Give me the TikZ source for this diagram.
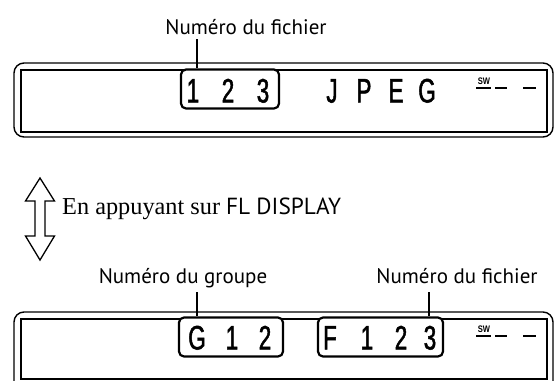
\documentclass[tikz,border=0pt]{standalone}
\usepackage{fontspec}
\setmainfont{Liberation Serif}
\newfontfamily\lblfont{PT Sans}
\newfontfamily\lcdfont[FakeStretch=0.66,FakeBold=1.4]{Liberation Sans}
\newfontfamily\swfont[FakeStretch=0.8]{Liberation Sans}
\begin{document}
\begin{tikzpicture}[x=1pt,y=-1pt,
  lbl/.style={font=\lblfont\fontsize{21}{24}\selectfont, inner sep=0pt, anchor=base},
  lcd/.style={font=\lcdfont\fontsize{34}{34}\selectfont, inner sep=0pt, anchor=base},
  segbox/.style={draw, line width=2.2pt, rounded corners=5pt, fill=white, inner sep=0pt, minimum height=39pt},
  frame/.style={line width=1.4pt},
  leader/.style={line width=1.8pt},
  lcddash/.style={line width=2pt},
  swtext/.style={font=\swfont\bfseries\fontsize{9.5}{9.5}\selectfont, inner sep=0pt, anchor=base}
]
\useasboundingbox (0,0) rectangle (556,380);
\clip (0,0) rectangle (556,380);

% ---------- top display ----------
\draw[frame, rounded corners=10pt] (14,63) rectangle (553,137);
\draw[frame] (21,70) rectangle (547,132);
\node[segbox, minimum width=98pt] (b1) at (230,89) {};
\node[lcd] (t1) at (193,102.5) {1};
\node[lcd] (t2) at (228,102.5) {2};
\node[lcd] (t3) at (263,102.5) {3};
\node[lcd] (tj) at (332,102.5) {J};
\node[lcd] (tp) at (364,102.5) {P};
\node[lcd] (te) at (396,102.5) {E};
\node[lcd] (tg) at (427,102.5) {G};
\node[swtext] (tsw) at (484,84) {SW};
\draw[lcddash] (476,88) -- (491,88);
\draw[lcddash] (495,88) -- (507,88);
\draw[lcddash] (523,88) -- (536,88);

\node[lbl] (lab1) at (246,34) {Numéro du fichier};
\coordinate (x1) at (197,0);
\draw[leader] ([yshift=-5pt]lab1.south -| x1) -- (b1.north -| x1);

% ---------- arrow and text ----------
\draw[line width=1.3pt, line join=miter]
  (40,178) -- (54.5,201) -- (45,201) -- (45,236) -- (54.5,236) -- (40,260)
  -- (25.5,236) -- (35,236) -- (35,201) -- (25.5,201) -- cycle;
\node[anchor=base west, inner sep=0pt, font=\fontsize{24.3}{27}\selectfont] (press) at (62,214)
  {En appuyant sur {\lblfont\fontsize{23.3}{27}\selectfont FL DISPLAY}};

% ---------- bottom display ----------
\draw[frame, rounded corners=10pt] (14,312) rectangle (553,430);
\draw[frame] (21,319) rectangle (547,379);
\node[segbox, minimum width=104pt] (b2) at (231,337) {};
\node[segbox, minimum width=125pt] (b3) at (380.5,337) {};
\node[lcd] (g) at (197,349.5) {G};
\node[lcd] (g1) at (232,349.5) {1};
\node[lcd] (g2) at (265,349.5) {2};
\node[lcd] (f) at (330,349.5) {F};
\node[lcd] (f1) at (367,349.5) {1};
\node[lcd] (f2) at (401,349.5) {2};
\node[lcd] (f3) at (430,349.5) {3};
\node[swtext] (bsw) at (484,332) {SW};
\draw[lcddash] (476,336) -- (491,336);
\draw[lcddash] (495,336) -- (507,336);
\draw[lcddash] (523,336) -- (536,336);

\node[lbl] (lab2) at (183,283) {Numéro du groupe};
\node[lbl] (lab3) at (457,283) {Numéro du fichier};
\coordinate (x2) at (197,0);
\coordinate (x3) at (429,0);
\draw[leader] ([yshift=-9pt]lab2.base -| x2) -- (b2.north -| x2);
\draw[leader] ([yshift=-9pt]lab3.base -| x3) -- (b3.north -| x3);
\end{tikzpicture}
\end{document}
